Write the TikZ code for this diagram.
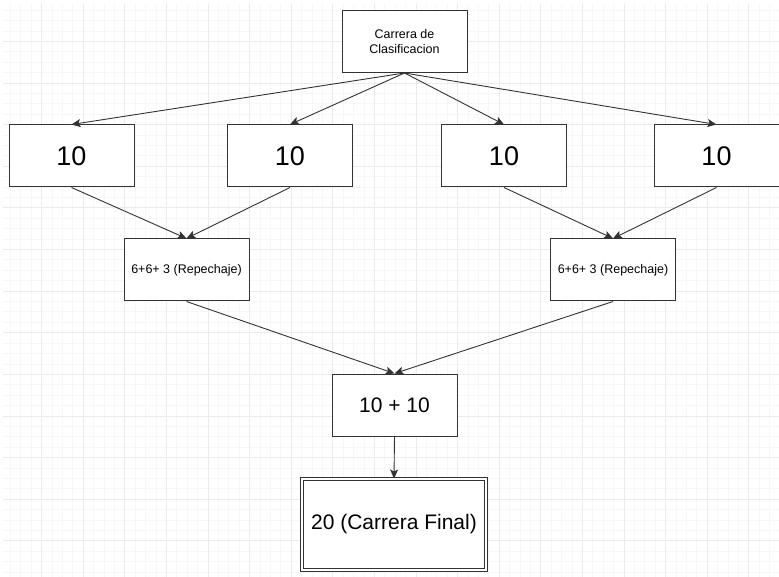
\documentclass[tikz,border=0pt]{standalone}
\usepackage{fontspec}
\setmainfont{Liberation Sans}
\usetikzlibrary{arrows.meta}

\definecolor{rejilla}{HTML}{F7F7F7}
\definecolor{rejillafuerte}{HTML}{EBEBEB}
\definecolor{borde}{HTML}{333333}

\tikzset{
	caja/.style={draw=borde, fill=white, line width=1pt, minimum width=125pt, minimum height=62pt, inner sep=0pt, align=center},
	flecha/.style={-{Stealth[length=9pt,width=8pt,inset=2pt]}, line width=0.9pt, color=borde}
}

\begin{document}
\begin{tikzpicture}[x=1pt, y=-1pt]

		% fondo y rejilla
		\fill[white] (0,0) rectangle (779,577);
		\useasboundingbox (0,0) rectangle (779,577);
		\foreach \i in {1,...,74} \draw[rejilla, line width=1pt] (\i*10.4,4) -- (\i*10.4,577);
		\foreach \j in {1,...,55} \draw[rejilla, line width=1pt] (3,\j*10.4) -- (779,\j*10.4);
		\foreach \i in {1,...,18} \draw[rejillafuerte, line width=1pt] (\i*41.6,4) -- (\i*41.6,577);
		\foreach \j in {1,...,13} \draw[rejillafuerte, line width=1pt] (3,\j*41.6) -- (779,\j*41.6);

		\node[caja, font=\fontsize{12.5}{15}\selectfont] (clasif) at (404.5,41.5) {Carrera de\\Clasificacion};

		\node[caja, font=\fontsize{27}{32}\selectfont] (grupoA) at (71.5,156) {10};
		\node[caja, font=\fontsize{27}{32}\selectfont] (grupoB) at (290,156) {10};
		\node[caja, font=\fontsize{27}{32}\selectfont] (grupoC) at (504,156) {10};
		\node[caja, font=\fontsize{27}{32}\selectfont] (grupoD) at (716.5,156) {10};

		\node[caja, font=\fontsize{12.5}{15}\selectfont] (repA) at (186.5,270) {6+6+ 3 (Repechaje)};
		\node[caja, font=\fontsize{12.5}{15}\selectfont] (repB) at (613,270) {6+6+ 3 (Repechaje)};

		\node[caja, font=\fontsize{21}{25}\selectfont] (suma) at (394.5,405) {10 + 10};

		\node[caja, double, double distance=1.5pt, minimum width=184pt, minimum height=91pt, font=\fontsize{21}{25}\selectfont] (final) at (394,524.5) {20 (Carrera Final)};

		\draw[flecha] (clasif.south) -- (grupoA.north);
		\draw[flecha] (clasif.south) -- (grupoB.north);
		\draw[flecha] (clasif.south) -- (grupoC.north);
		\draw[flecha] (clasif.south) -- (grupoD.north);

		\draw[flecha] (grupoA.south) -- (repA.north);
		\draw[flecha] (grupoB.south) -- (repA.north);
		\draw[flecha] (grupoC.south) -- (repB.north);
		\draw[flecha] (grupoD.south) -- (repB.north);

		\draw[flecha] (repA.south) -- (suma.north);
		\draw[flecha] (repB.south) -- (suma.north);

		\draw[flecha] (suma.south) -- (final.north);
	\end{tikzpicture}
\end{document}
